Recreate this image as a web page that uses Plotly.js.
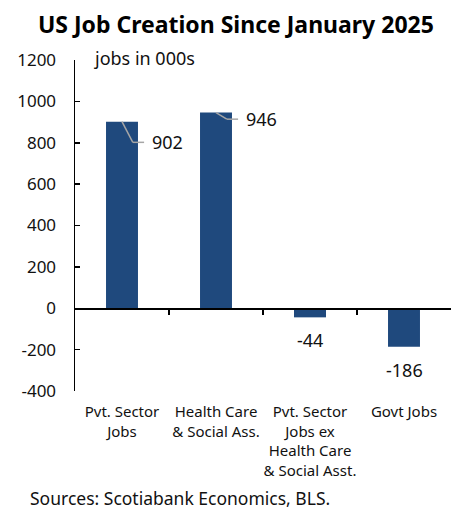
<!DOCTYPE html>
<html><head><meta charset="utf-8">
<script src="https://cdn.plot.ly/plotly-3.0.1.min.js"></script>
<style>body{margin:0;padding:0;background:#fff}#chart{width:451px;height:510px}</style>
</head><body><div id="chart"></div>
<script>
const categories = ["Pvt. Sector<br>Jobs", "Health Care<br>& Social Ass.", "Pvt. Sector<br>Jobs ex<br>Health Care<br>& Social Asst.", "Govt Jobs"];
const values = [902, 946, -44, -186];
const yTicks = [-400, -200, 0, 200, 400, 600, 800, 1000, 1200];
const yTickText = yTicks.map(v => String(v));

const barColor = '#1f497d';
const font = '"Noto Sans", "Open Sans", sans-serif';

const trace = {
  type: 'bar', x: categories.map((c, i) => i), y: values,
  marker: {color: barColor}, width: 0.34, hoverinfo: 'none'
};

// leader lines for positive bars (drop then horizontal), labels for all
const drops = [100, 32];
const shapes = [];
const annotations = [];
values.forEach((v, i) => {
  if (v > 0) {
    const d = drops[i];
    shapes.push({type: 'line', xref: 'x', yref: 'y', x0: i, y0: v, x1: i + 0.115, y1: v - d, line: {color: '#a6a6a6', width: 1.5}});
    shapes.push({type: 'line', xref: 'x', yref: 'y', x0: i + 0.115, y0: v - d, x1: i + 0.235, y1: v - d, line: {color: '#a6a6a6', width: 1.5}});
    annotations.push({x: i + 0.3, y: v - d, xref: 'x', yref: 'y', text: String(v), showarrow: false, xanchor: 'left', yanchor: 'middle', font: {size: 18, color: '#111', family: font}});
  } else {
    annotations.push({x: i, y: v, xref: 'x', yref: 'y', text: String(v), showarrow: false, xanchor: 'center', yanchor: 'top', yshift: -9, font: {size: 18, color: '#111', family: font}});
  }
});
annotations.push({x: 0.045, y: 1.005, xref: 'paper', yref: 'paper', text: 'jobs in 000s', showarrow: false, xanchor: 'left', yanchor: 'middle', font: {size: 18, color: '#111', family: font}});
annotations.push({x: -0.125, y: -0.323, xref: 'paper', yref: 'paper', text: 'Sources: Scotiabank Economics, BLS.', showarrow: false, xanchor: 'left', yanchor: 'middle', font: {size: 17.5, color: '#111', family: font}});

const layout = {
  width: 451, height: 510,
  margin: {l: 75, r: 0, t: 60, b: 119},
  paper_bgcolor: '#fff', plot_bgcolor: '#fff',
  showlegend: false,
  title: {text: '<b>US Job Creation Since January 2025</b>', x: 0.523, xref: 'container', y: 0.952, yref: 'container', xanchor: 'center', yanchor: 'middle', font: {size: 23, color: '#000', family: font}},
  xaxis: {
    type: 'linear', range: [-0.5, 3.5], tickvals: [0, 1, 2, 3], ticktext: categories,
    showline: false, ticks: '', zeroline: false, showgrid: false,
    tickfont: {size: 15, color: '#111', family: font}, ticklabelstandoff: 10
  },
  xaxis2: {
    type: 'linear', range: [-0.5, 3.5], overlaying: 'x', anchor: 'free', position: 0.25,
    side: 'bottom', tickvals: [0.5, 1.5, 2.5], ticks: 'outside', ticklen: 5, tickwidth: 1.5, tickcolor: '#000',
    showticklabels: false, showline: true, linecolor: '#000', linewidth: 1.8, showgrid: false, zeroline: false
  },
  yaxis: {
    range: [-400, 1200], tickvals: yTicks, ticktext: yTickText, ticks: 'inside', ticklen: 5, tickwidth: 1.5, tickcolor: '#000',
    showline: true, linecolor: '#000', linewidth: 1.5, showgrid: false, zeroline: false,
    tickfont: {size: 17, color: '#111', family: font}, ticklabelstandoff: 14
  },
  shapes: shapes,
  annotations: annotations
};

const xaxis2Dummy = {type: 'scatter', x: [0], y: [0], xaxis: 'x2', mode: 'markers', marker: {opacity: 0}, hoverinfo: 'none'};
Plotly.newPlot('chart', [trace, xaxis2Dummy], layout, {displayModeBar: false, staticPlot: true});
</script></body></html>
